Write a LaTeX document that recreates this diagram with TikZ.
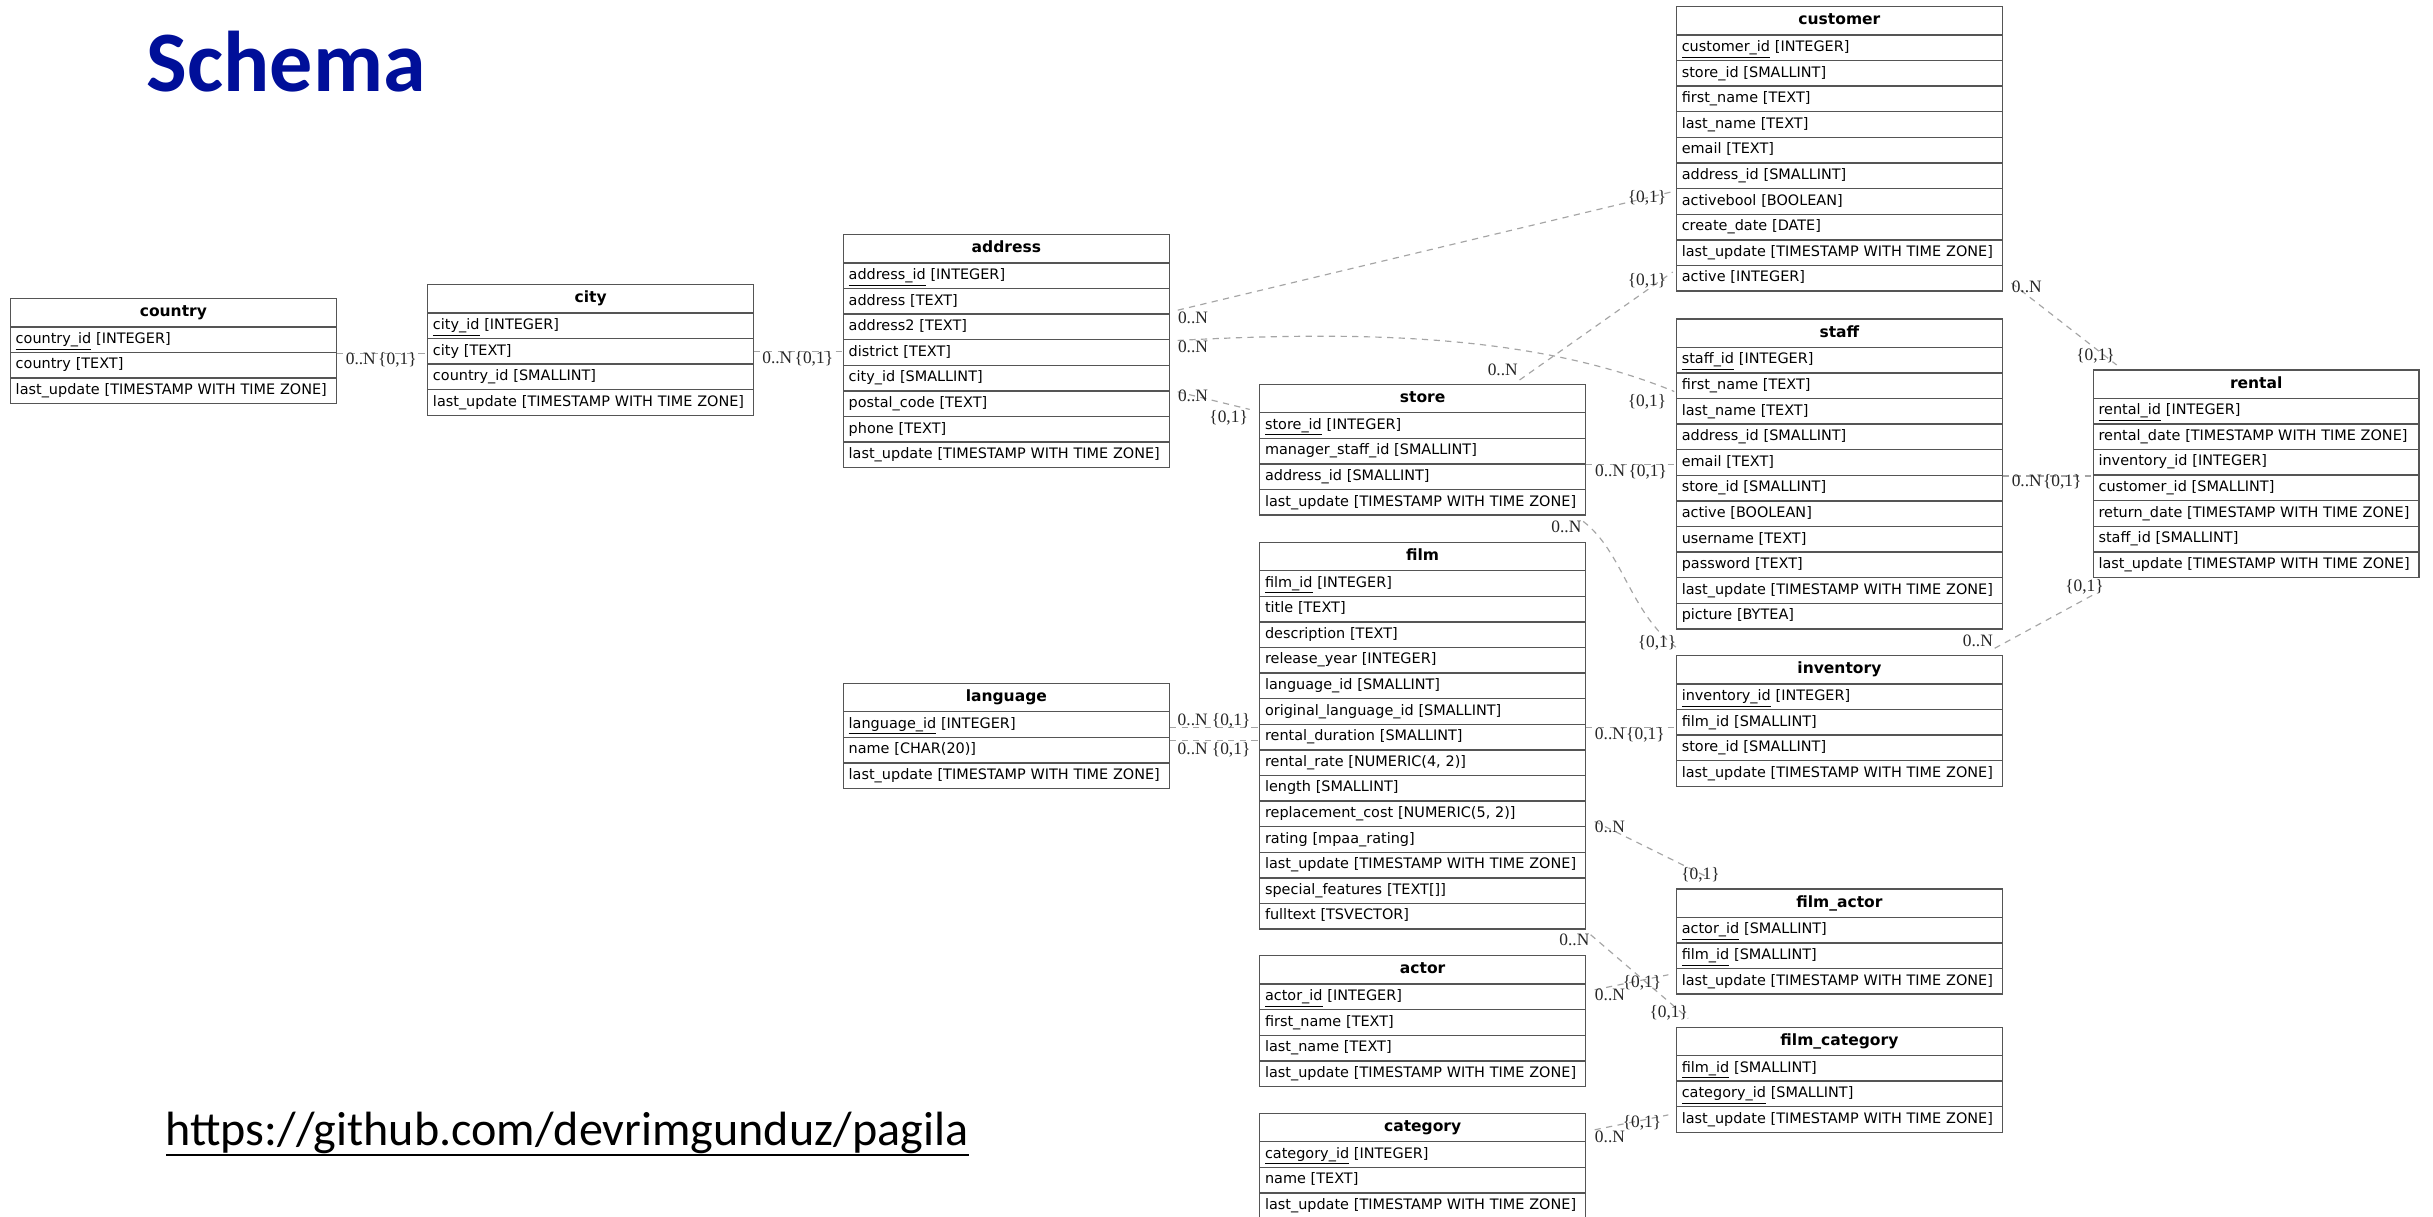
\documentclass[tikz,border=0pt]{standalone}
\usepackage{fontspec}
\setmainfont{DejaVu Sans}
\newfontfamily\cardfont{Liberation Serif}
\newfontfamily\slidefont{Carlito}
\usetikzlibrary{calc}

\definecolor{schemablue}{RGB}{0,15,153}
\definecolor{tblline}{RGB}{85,85,85}
\definecolor{relgray}{RGB}{165,165,165}

\tikzset{
  tblhead/.style={draw=tblline, line width=0.9pt, anchor=north west, inner sep=0pt,
    minimum width=210pt, minimum height=18.2pt, text height=7.3pt, text depth=2.2pt,
    font=\fontsize{10}{12}\selectfont\bfseries},
  tblrow/.style={draw=tblline, line width=0.9pt, anchor=north west, inner xsep=3.4pt, inner ysep=0pt,
    text width=203.2pt, align=left, minimum height=16.5pt, text height=6.8pt, text depth=2pt,
    font=\fontsize{9.3}{11}\selectfont},
  rel/.style={draw=relgray, line width=0.75pt, dash pattern=on 4pt off 3.5pt},
  card/.style={inner sep=0pt, text=black!85, font=\cardfont\fontsize{11.2}{12}\selectfont},
}

% primary key column and the common timestamp column
\newcommand\pk[1]{\underline{#1}}
\newcommand\lastupd{last\_update [TIMESTAMP WITH TIME ZONE]}

% table: name, left x, top y, title, list of columns
\newcommand\dbtable[5]{%
  \node[tblhead] (#1) at (#2,#3) {#4};
  \foreach \rowtext [count=\k] in {#5}{%
    \node[tblrow] (#1-\k) at (#2,{#3+18.2+(\k-1)*16.5}) {\rowtext};
  }%
}

\begin{document}
\begin{tikzpicture}[x=1pt, y=-1pt]
\fill[white] (0,0) rectangle (1568,784.3);
\useasboundingbox (0,0) rectangle (1568,784.3);

% heading and link
\node[anchor=base west, inner sep=0pt, text=schemablue,
  font=\slidefont\bfseries\fontsize{55.5}{60}\selectfont] (heading) at (94.5,59.1) {Schema};
\node[anchor=base west, inner sep=0pt,
  font=\slidefont\fontsize{31}{34}\selectfont] (link) at (106.5,738) {https://github.com/devrimgunduz/pagila};
\draw[line width=1.6pt] ($(link.base west)+(0.5,6.5)$) -- ($(link.base east)+(0,6.5)$);

% tables
\dbtable{country}{6.3}{192}{country}{%
  \pk{country\_id} [INTEGER], country [TEXT], \lastupd}
\dbtable{city}{275.2}{183}{city}{%
  \pk{city\_id} [INTEGER], city [TEXT], country\_id [SMALLINT], \lastupd}
\dbtable{address}{543.1}{150.8}{address}{%
  \pk{address\_id} [INTEGER], address [TEXT], address2 [TEXT], district [TEXT],
  city\_id [SMALLINT], postal\_code [TEXT], phone [TEXT], \lastupd}
\dbtable{store}{811.4}{247.3}{store}{%
  \pk{store\_id} [INTEGER], manager\_staff\_id [SMALLINT], address\_id [SMALLINT], \lastupd}
\dbtable{customer}{1080}{3.9}{customer}{%
  \pk{customer\_id} [INTEGER], store\_id [SMALLINT], first\_name [TEXT], last\_name [TEXT],
  email [TEXT], address\_id [SMALLINT], activebool [BOOLEAN], create\_date [DATE],
  \lastupd, active [INTEGER]}
\dbtable{staff}{1080}{205.2}{staff}{%
  \pk{staff\_id} [INTEGER], first\_name [TEXT], last\_name [TEXT], address\_id [SMALLINT],
  email [TEXT], store\_id [SMALLINT], active [BOOLEAN], username [TEXT], password [TEXT],
  \lastupd, picture [BYTEA]}
\dbtable{rental}{1348.6}{238}{rental}{%
  \pk{rental\_id} [INTEGER], rental\_date [TIMESTAMP WITH TIME ZONE], inventory\_id [INTEGER],
  customer\_id [SMALLINT], return\_date [TIMESTAMP WITH TIME ZONE], staff\_id [SMALLINT], \lastupd}
\dbtable{film}{811.4}{349.1}{film}{%
  \pk{film\_id} [INTEGER], title [TEXT], description [TEXT], release\_year [INTEGER],
  language\_id [SMALLINT], original\_language\_id [SMALLINT], rental\_duration [SMALLINT],
  {rental\_rate [NUMERIC(4, 2)]}, length [SMALLINT], {replacement\_cost [NUMERIC(5, 2)]},
  rating [mpaa\_rating], \lastupd, special\_features [TEXT[]], fulltext [TSVECTOR]}
\dbtable{inventory}{1080}{422.1}{inventory}{%
  \pk{inventory\_id} [INTEGER], film\_id [SMALLINT], store\_id [SMALLINT], \lastupd}
\dbtable{language}{543.1}{440}{language}{%
  \pk{language\_id} [INTEGER], name [CHAR(20)], \lastupd}
\dbtable{filmactor}{1080}{572.5}{film\_actor}{%
  \pk{actor\_id} [SMALLINT], \pk{film\_id} [SMALLINT], \lastupd}
\dbtable{actor}{811.4}{615.5}{actor}{%
  \pk{actor\_id} [INTEGER], first\_name [TEXT], last\_name [TEXT], \lastupd}
\dbtable{filmcat}{1080}{661.6}{film\_category}{%
  \pk{film\_id} [SMALLINT], \pk{category\_id} [SMALLINT], \lastupd}
\dbtable{category}{811.4}{717.1}{category}{%
  \pk{category\_id} [INTEGER], name [TEXT], \lastupd}

% relationships
% country -- city
\coordinate (e1s) at (country-1.south east);
\coordinate (e1e) at (e1s -| city.west);
\draw[rel] (e1s) -- (e1e);
\node[card, anchor=base west] (e1a) at ($(e1s)+(5.5,7.5)$) {0..N};
\node[card, anchor=base east] (e1b) at ($(e1e)+(-6.5,7.5)$) {\{0,1\}};

% city -- address
\coordinate (e2s) at (city-2.east);
\coordinate (e2e) at (e2s -| address.west);
\draw[rel] (e2s) -- (e2e);
\node[card, anchor=base west] (e2a) at ($(e2s)+(5,8)$) {0..N};
\node[card, anchor=base east] (e2b) at ($(e2e)+(-6,8)$) {\{0,1\}};

% address -- customer
\coordinate (e3s) at ($(address-2.south east)+(5,-3)$);
\coordinate (e3e) at ($(customer-7.west)+(-2,-6.3)$);
\draw[rel] (e3s) -- (e3e);
\node[card, anchor=base west] (e3a) at ($(e3s)+(0,8.5)$) {0..N};
\node[card, anchor=base east] (e3b) at ($(e3e)+(-4,7)$) {\{0,1\}};

% address -- staff
\coordinate (e4s) at ($(address-3.south east)+(5,0)$);
\coordinate (e4e) at ($(staff-2.south west)+(-1,-5)$);
\draw[rel] (e4s) .. controls ($(e4s)+(122,-6.5)$) and ($(e4e)+(-89,-36.4)$) .. (e4e);
\node[card, anchor=base west] (e4a) at ($(e4s)+(0,8)$) {0..N};
\node[card, anchor=base east] (e4b) at ($(e4e)+(-5,9.5)$) {\{0,1\}};

% address -- store
\coordinate (e5s) at ($(address-6.north east)+(5,1)$);
\coordinate (e5e) at ($(store.west)+(-6,7)$);
\draw[rel] (e5s) -- (e5e);
\node[card, anchor=base west] (e5a) at ($(e5s)+(0,6.5)$) {0..N};
\node[card, anchor=base east] (e5b) at ($(e5e)+(-1,8.3)$) {\{0,1\}};

% store -- customer
\coordinate (e6s) at ($(store.north east)+(-43,-2.4)$);
\coordinate (e6e) at ($(customer-10.west)+(-2,-4)$);
\draw[rel] (e6s) -- (e6e);
\node[card, anchor=base east] (e6a) at ($(e6s)+(-1,-2.6)$) {0..N};
\node[card, anchor=base east] (e6b) at ($(e6e)+(-4,8.5)$) {\{0,1\}};

% store -- staff
\coordinate (e7s) at (store-2.south east);
\coordinate (e7e) at (e7s -| staff.west);
\draw[rel] (e7s) -- (e7e);
\node[card, anchor=base west] (e7a) at ($(e7s)+(5.5,8)$) {0..N};
\node[card, anchor=base east] (e7b) at ($(e7e)+(-5.5,8)$) {\{0,1\}};

% store -- inventory
\coordinate (e8s) at ($(store-4.south east)+(-2,3.6)$);
\coordinate (e8e) at ($(inventory.north west)+(1,-4.3)$);
\draw[rel] (e8s) .. controls ($(e8s)+(26,20)$) and ($(e8e)+(-31,-23)$) .. (e8e);
\node[card, anchor=base east] (e8a) at ($(e8s)+(-1,7)$) {0..N};
\node[card, anchor=base east] (e8b) at ($(e8e)+(-0.5,-0.6)$) {\{0,1\}};

% staff -- rental
\coordinate (e9s) at (staff-5.south east);
\coordinate (e9e) at (e9s -| rental.west);
\draw[rel] (e9s) -- (e9e);
\node[card, anchor=base west] (e9a) at ($(e9s)+(5.4,7)$) {0..N};
\node[card, anchor=base east] (e9b) at ($(e9e)+(-7,7)$) {\{0,1\}};

% customer -- rental
\coordinate (e10s) at ($(customer-10.south east)+(5.4,-5.6)$);
\coordinate (e10e) at ($(rental.north west)+(15.5,-2.8)$);
\draw[rel] (e10s) -- (e10e);
\node[card, anchor=base west] (e10a) at ($(e10s)+(0,6)$) {0..N};
\node[card, anchor=base east] (e10b) at ($(e10e)+(-1,-3)$) {\{0,1\}};

% inventory -- rental
\coordinate (e11s) at ($(inventory.north east)+(-5.4,-4.3)$);
\coordinate (e11e) at ($(rental-7.south west)+(0.5,10.7)$);
\draw[rel] (e11s) -- (e11e);
\node[card, anchor=base east] (e11a) at ($(e11s)+(-1,-1)$) {0..N};
\node[card, anchor=base east] (e11b) at ($(e11e)+(6.9,-1.9)$) {\{0,1\}};

% language -- film (two keys)
\coordinate (e12s) at ($(language-1.east)+(0,1.9)$);
\coordinate (e12e) at (e12s -| film.west);
\draw[rel] (e12s) -- (e12e);
\node[card, anchor=base west] (e12a) at ($(e12s)+(4.8,-1.1)$) {0..N};
\node[card, anchor=base east] (e12b) at ($(e12e)+(-5.4,-1.1)$) {\{0,1\}};
\coordinate (e13s) at ($(language-1.south east)+(0,1.8)$);
\coordinate (e13e) at (e13s -| film.west);
\draw[rel] (e13s) -- (e13e);
\node[card, anchor=base west] (e13a) at ($(e13s)+(4.8,8.6)$) {0..N};
\node[card, anchor=base east] (e13b) at ($(e13e)+(-5.4,8.6)$) {\{0,1\}};

% film -- inventory
\coordinate (e14s) at ($(film-7.north east)+(0,2.4)$);
\coordinate (e14e) at (e14s -| inventory.west);
\draw[rel] (e14s) -- (e14e);
\node[card, anchor=base west] (e14a) at ($(e14s)+(5.4,7.8)$) {0..N};
\node[card, anchor=base east] (e14b) at ($(e14e)+(-7,7.8)$) {\{0,1\}};

% film -- film_actor
\coordinate (e15s) at ($(film-10.south east)+(5.4,-3.8)$);
\coordinate (e15e) at ($(filmactor.north west)+(19.9,-7.5)$);
\draw[rel] (e15s) -- (e15e);
\node[card, anchor=base west] (e15a) at ($(e15s)+(0,6.8)$) {0..N};
\node[card, anchor=base east] (e15b) at ($(e15e)+(8.6,1.5)$) {\{0,1\}};

% film -- film_category
\coordinate (e16s) at ($(film-14.south east)+(2.8,3.2)$);
\coordinate (e16e) at ($(filmcat.north west)+(8,-5.3)$);
\draw[rel] (e16s) -- (e16e);
\node[card, anchor=base east] (e16a) at ($(e16s)+(-0.6,6.9)$) {0..N};
\node[card, anchor=base east] (e16b) at ($(e16e)+(0,-0.3)$) {\{0,1\}};

% actor -- film_actor
\coordinate (e17s) at ($(actor.south east)+(5.4,3.3)$);
\coordinate (e17e) at ($(filmactor-3.west)+(-4.8,-4.2)$);
\draw[rel] (e17s) -- (e17e);
\node[card, anchor=base west] (e17a) at ($(e17s)+(0,7)$) {0..N};
\node[card, anchor=base east] (e17b) at ($(e17e)+(-4.4,8.2)$) {\{0,1\}};

% category -- film_category
\coordinate (e18s) at ($(category.south east)+(5.4,-8.1)$);
\coordinate (e18e) at ($(filmcat-3.west)+(-4.8,-3)$);
\draw[rel] (e18s) -- (e18e);
\node[card, anchor=base west] (e18a) at ($(e18s)+(0,8.3)$) {0..N};
\node[card, anchor=base east] (e18b) at ($(e18e)+(-4.4,8)$) {\{0,1\}};
\end{tikzpicture}
\end{document}
